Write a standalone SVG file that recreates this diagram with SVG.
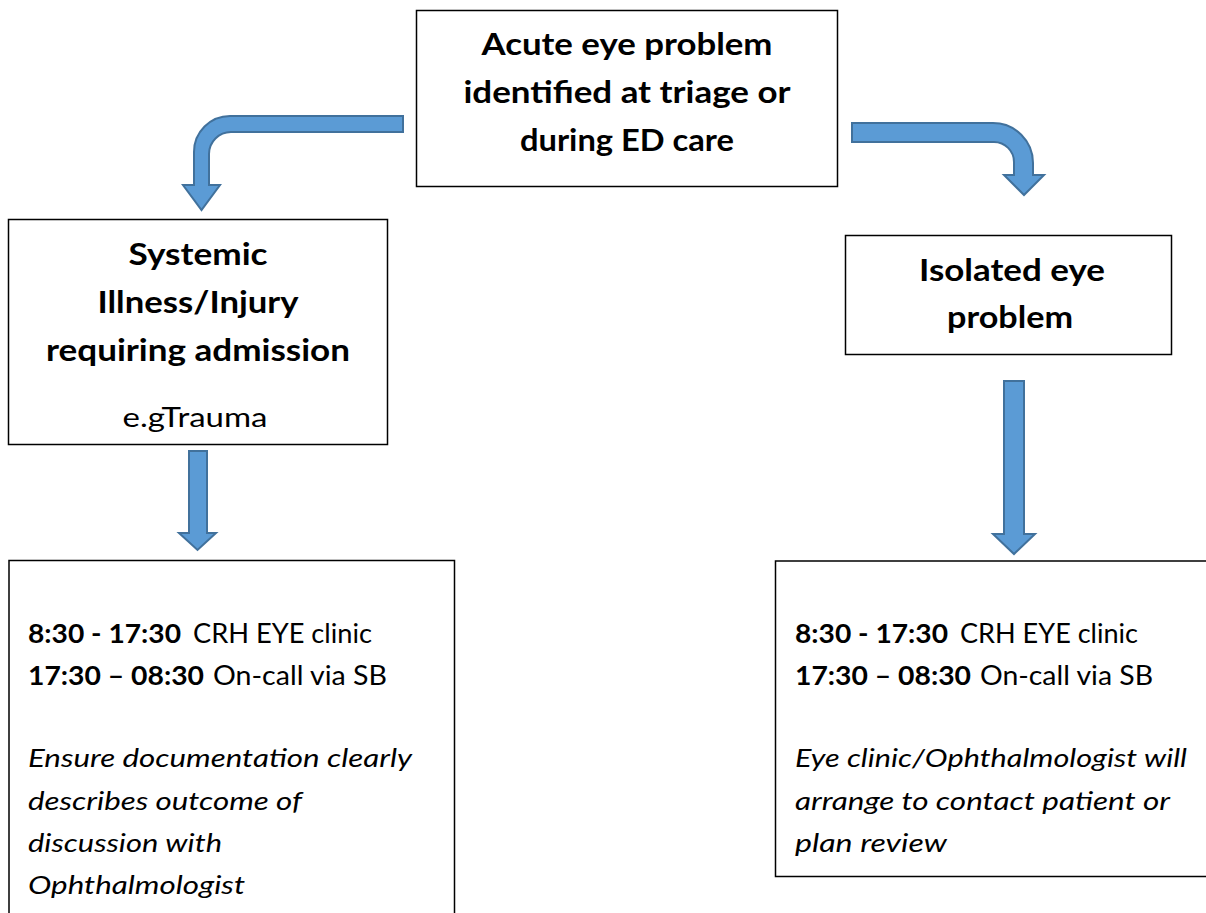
<svg xmlns="http://www.w3.org/2000/svg" width="1206" height="913" viewBox="0 0 1206 913">
<style>
.box{fill:#fff;stroke:#000;stroke-width:1.5}
.arrow{fill:#5B9BD5;stroke:#41719C;stroke-width:2;stroke-linejoin:miter}
.h{font-family:Lato,"Liberation Sans",sans-serif;font-weight:bold;font-size:30px;fill:#000;text-anchor:middle}
.t{font-family:Lato,"Liberation Sans",sans-serif;font-size:26px;fill:#000}
.b{font-weight:bold}
.i{font-style:italic}
</style>
<rect width="1206" height="913" fill="#fff"/>
<g id="connectors">
<path class="arrow" d="M403,116 L230,116 A36,36 0 0 0 194,152 L194,185 L183,185 L201.5,210 L220,185 L209,185 L209,154 A22,22 0 0 1 231,132 L403,132 Z"/>
<path class="arrow" d="M852,123 L993,123 A40,40 0 0 1 1033,163 L1033,175 L1044,175 L1024,195 L1004,175 L1014,175 L1014,162 A20,20 0 0 0 994,142 L852,142 Z"/>
<path class="arrow" d="M189,451 L207,451 L207,533 L216,533 L197.5,550 L179,533 L189,533 Z"/>
<path class="arrow" d="M1004,381 L1024,381 L1024,534 L1035,534 L1014,554 L993,534 L1004,534 Z"/>
</g>
<g id="node-acute">
<rect class="box" x="416.5" y="10.5" width="421" height="176"/>
<text class="h" x="627" y="55" textLength="291" lengthAdjust="spacingAndGlyphs">Acute eye problem</text>
<text class="h" x="627" y="103" textLength="327" lengthAdjust="spacingAndGlyphs">identified at triage or</text>
<text class="h" x="627" y="151" textLength="214" lengthAdjust="spacingAndGlyphs">during ED care</text>
</g>
<g id="node-systemic">
<rect class="box" x="8.5" y="219.5" width="379" height="225"/>
<text class="h" x="198" y="265" textLength="139" lengthAdjust="spacingAndGlyphs">Systemic</text>
<text class="h" x="198" y="313" textLength="201" lengthAdjust="spacingAndGlyphs">Illness/Injury</text>
<text class="h" x="198" y="361" textLength="304" lengthAdjust="spacingAndGlyphs">requiring admission</text>
<text class="t" x="195" y="427" text-anchor="middle" textLength="145" lengthAdjust="spacingAndGlyphs">e.gTrauma</text>
</g>
<g id="node-isolated">
<rect class="box" x="845.5" y="235.5" width="326" height="119"/>
<text class="h" x="1012" y="281" textLength="186" lengthAdjust="spacingAndGlyphs">Isolated eye</text>
<text class="h" x="1010" y="328" textLength="126" lengthAdjust="spacingAndGlyphs">problem</text>
</g>
<g id="node-admission-contact">
<path class="box" d="M9,914 L9,560.5 L454.5,560.5 L454.5,914"/>
<text class="t b" x="28" y="643" textLength="153" lengthAdjust="spacingAndGlyphs">8:30 - 17:30</text>
<text class="t" x="193" y="643" textLength="179" lengthAdjust="spacingAndGlyphs">CRH EYE clinic</text>
<text class="t b" x="28" y="685" textLength="176" lengthAdjust="spacingAndGlyphs">17:30 – 08:30</text>
<text class="t" x="213" y="685" textLength="174" lengthAdjust="spacingAndGlyphs">On-call via SB</text>
<text class="t i" x="28" y="767" textLength="384" lengthAdjust="spacingAndGlyphs">Ensure documentation clearly</text>
<text class="t i" x="28" y="810" textLength="274" lengthAdjust="spacingAndGlyphs">describes outcome of</text>
<text class="t i" x="28" y="852" textLength="194" lengthAdjust="spacingAndGlyphs">discussion with</text>
<text class="t i" x="28" y="894" textLength="217" lengthAdjust="spacingAndGlyphs">Ophthalmologist</text>
</g>
<g id="node-isolated-contact">
<path class="box" d="M1207,876.5 L775.5,876.5 L775.5,561 L1207,561"/>
<text class="t b" x="795" y="643" textLength="153" lengthAdjust="spacingAndGlyphs">8:30 - 17:30</text>
<text class="t" x="960" y="643" textLength="178" lengthAdjust="spacingAndGlyphs">CRH EYE clinic</text>
<text class="t b" x="795" y="685" textLength="176" lengthAdjust="spacingAndGlyphs">17:30 – 08:30</text>
<text class="t" x="980" y="685" textLength="173" lengthAdjust="spacingAndGlyphs">On-call via SB</text>
<text class="t i" x="795" y="767" textLength="392" lengthAdjust="spacingAndGlyphs">Eye clinic/Ophthalmologist will</text>
<text class="t i" x="795" y="810" textLength="375" lengthAdjust="spacingAndGlyphs">arrange to contact patient or</text>
<text class="t i" x="795" y="852" textLength="152" lengthAdjust="spacingAndGlyphs">plan review</text>
</g>
</svg>
